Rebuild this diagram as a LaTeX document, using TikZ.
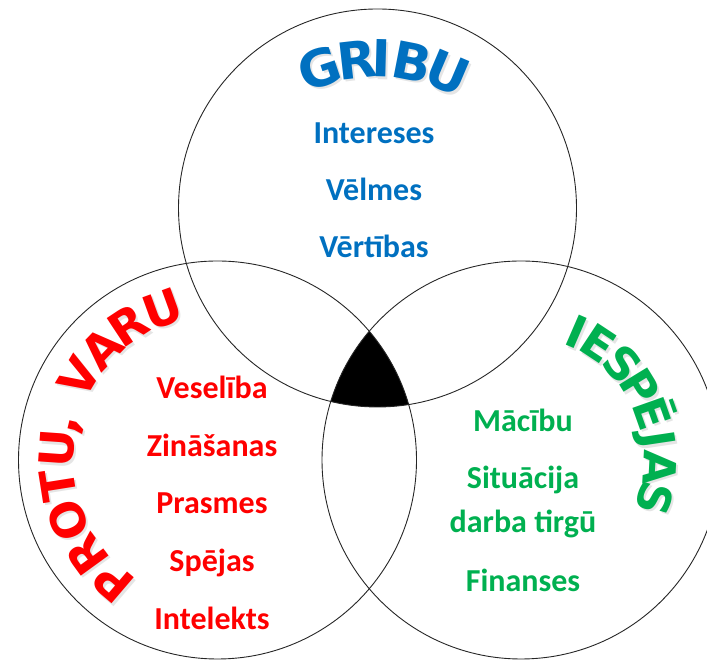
\documentclass[tikz,border=0pt]{standalone}
\usepackage{fontspec}
\setmainfont{Carlito}
\newfontfamily\titlefont{DejaVu Sans}
\usepackage{tikz}
\usetikzlibrary{calc}
\definecolor{gribublue}{RGB}{0,112,192}
\definecolor{varured}{RGB}{255,0,0}
\definecolor{iespgreen}{RGB}{0,176,80}
\tikzset{venn circle/.style={draw=black!85, line width=0.9pt},
  item/.style={anchor=base, inner sep=0, font=\bfseries\fontsize{32}{36}\selectfont},
  letter/.style={anchor=base, inner sep=0, rotate=#1-90},
  shadow/.style={text=black!10}}
\def\ttl#1{\titlefont\bfseries\fontsize{#1}{#1}\selectfont}

\begin{document}
\begin{tikzpicture}[x=1pt, y=1pt]
        \clip (0,0) rectangle (707,660);

          %円の中心
          \coordinate (W) at (377.5,452);
          \coordinate (C) at (217.5,200);
          \coordinate (O) at (521,200);

          %三つの共通部分
          \begin{scope}
            \clip (W) circle (199pt);
            \clip (C) circle (199pt);
            \fill[black] (O) circle (199pt);
          \end{scope}

          %三つの円
          \draw[venn circle] (W) circle (199pt);
          \draw[venn circle] (C) circle (199pt);
          \draw[venn circle] (O) circle (199pt);

          %GRIBU
          \coordinate (gribu) at (377,420);
          \foreach \ch/\a [count=\i] in {G/108.5, R/96.5, I/88.5, B/79, U/67}{
            \node[letter=\a, shadow, font=\ttl{51}] (gs\i) at ($(gribu)+(\a:163)+(2,-2.5)$) {\ch};
            \node[letter=\a, text=gribublue, font=\ttl{51}] (g\i) at ($(gribu)+(\a:163)$) {\ch};
          }
          \node[item, text=gribublue] (int) at (374,516) {Intereses};
          \node[item, text=gribublue] (vel) at (374,459) {Vēlmes};
          \node[item, text=gribublue] (ver) at (374,402) {Vērtības};

          %PROTU, VARU
          \foreach \ch/\a [count=\i] in {P/229.5, R/216, O/202, T/189, U/176, {,}/166.5, V/149, A/136, R/123.5, U/110}{
            \node[letter=\a, shadow, font=\ttl{47}] (vs\i) at ($(C)+(\a:144)+(2,-2.5)$) {\ch};
            \node[letter=\a, text=varured, font=\ttl{47}] (v\i) at ($(C)+(\a:144)$) {\ch};
          }
          \node[item, text=varured] (ves) at (212,261) {Veselība};
          \node[item, text=varured] (zin) at (212,203) {Zināšanas};
          \node[item, text=varured] (pra) at (212,146) {Prasmes};
          \node[item, text=varured] (spe) at (212,88) {Spējas};
          \node[item, text=varured] (intl) at (212,30) {Intelekts};

          %IESPĒJAS
          \foreach \ch/\a [count=\i] in {I/66.5, E/56.5, S/43.5, P/31.5, Ē/19.5, J/8.5, A/-3, S/-16}{
            \node[letter=\a, shadow, font=\ttl{45}] (is\i) at ($(O)+(\a:123)+(2,-2.5)$) {\ch};
            \node[letter=\a, text=iespgreen, font=\ttl{45}] (i\i) at ($(O)+(\a:123)$) {\ch};
          }
          \node[item, text=iespgreen] (mac) at (523,228) {Mācību};
          \node[item, text=iespgreen] (sit) at (523,171) {Situācija};
          \node[item, text=iespgreen] (dar) at (523,127) {darba tirgū};
          \node[item, text=iespgreen] (fin) at (523,68) {Finanses};

        \end{tikzpicture}
\end{document}
